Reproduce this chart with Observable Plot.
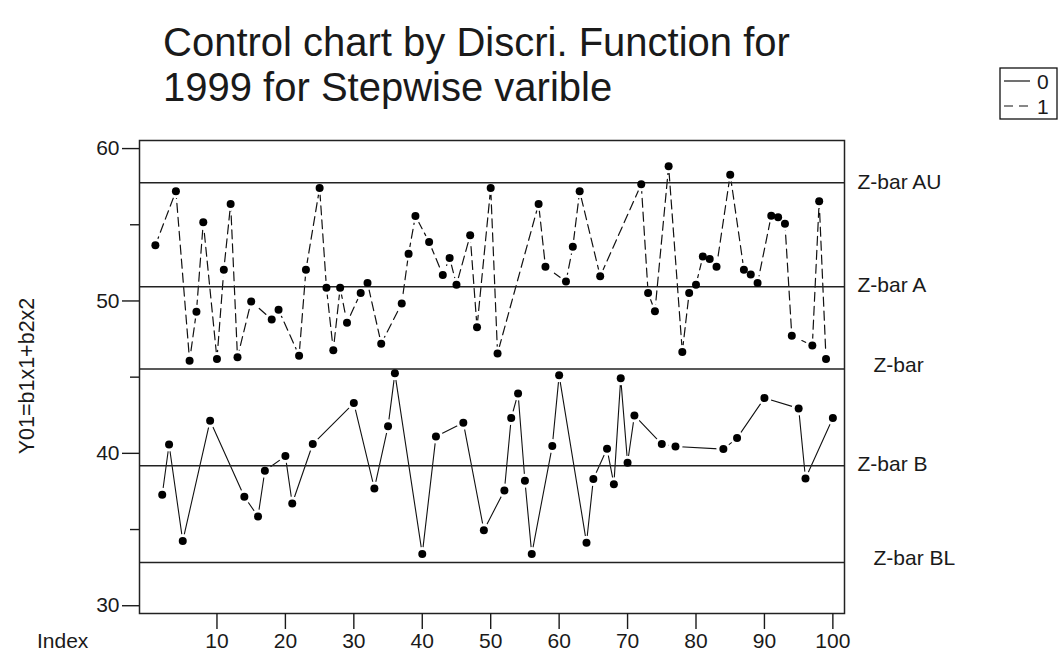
<!DOCTYPE html>
<html><head><meta charset="utf-8">
<script src="https://cdn.jsdelivr.net/npm/d3@7"></script>
<script src="https://cdn.jsdelivr.net/npm/@observablehq/plot@0.6"></script>
<style>
body{margin:0;background:#fff;}
#wrap{position:relative;width:1059px;height:671px;overflow:hidden;background:#fff;font-family:"Liberation Sans",Arial,sans-serif;}
#chart{position:absolute;left:0;top:0;}
#overlay{position:absolute;left:0;top:0;pointer-events:none;}
</style></head><body>
<div id="wrap"><div id="chart"></div>
<svg id="overlay" width="1059" height="671" font-family="'Liberation Sans', Arial, sans-serif" fill="#1a1a1a"></svg>
</div>
<script>
// ---- data ----
const indices = [1,2,3,4,5,6,7,8,9,10,11,12,13,14,15,16,17,18,19,20,21,22,23,24,25,26,27,28,29,30,31,32,33,34,35,36,37,38,39,40,41,42,43,44,45,46,47,48,49,50,51,52,53,54,55,56,57,58,59,60,61,62,63,64,65,66,67,68,69,70,71,72,73,74,75,76,77,78,79,80,81,82,83,84,85,86,87,88,89,90,91,92,93,94,95,96,97,98,99,100];
const values = [
  53.65, 37.28, 40.58, 57.2, 34.24, 46.08, 49.3, 55.16, 42.14, 46.19,
  52.04, 56.37, 46.3, 37.15, 49.97, 35.86, 38.86, 48.79, 49.43, 39.82,
  36.71, 46.41, 52.04, 40.61, 57.42, 50.87, 46.76, 50.87, 48.57, 43.3,
  50.53, 51.18, 37.7, 47.2, 41.77, 45.25, 49.84, 53.09, 55.58, 33.39,
  53.87, 41.11, 51.71, 52.82, 51.07, 42.01, 54.31, 48.27, 34.96, 57.42,
  46.56, 37.56, 42.32, 43.93, 38.2, 33.39, 56.37, 52.25, 40.48, 45.12,
  51.27, 53.55, 57.2, 34.13, 38.31, 51.62, 40.3, 37.98, 44.92, 39.38,
  42.49, 57.66, 50.53, 49.32, 40.61, 58.84, 40.45, 46.65, 50.53, 51.07,
  52.91, 52.76, 52.25, 40.28, 58.29, 41.0, 52.05, 51.73, 51.18, 43.63,
  55.6, 55.49, 55.06, 47.72, 42.95, 38.35, 47.07, 56.54, 46.19, 42.32
];
const groups = [
  1,0,0,1,0,1,1,1,0,1,
  1,1,1,0,1,0,0,1,1,0,
  0,1,1,0,1,1,1,1,1,0,
  1,1,0,1,0,0,1,1,1,0,
  1,0,1,1,1,0,1,1,0,1,
  1,0,0,0,0,0,1,1,0,0,
  1,1,1,0,0,1,0,0,0,0,
  0,1,1,1,0,1,0,1,1,1,
  1,1,1,0,1,0,1,1,1,0,
  1,1,1,1,0,0,1,1,1,0
];
const limitNames = ["Z-bar AU", "Z-bar A", "Z-bar", "Z-bar B", "Z-bar BL"];
const limitValues = [57.75, 50.94, 45.54, 39.19, 32.84];
const xTicks = [10,20,30,40,50,60,70,80,90,100];
const yTicks = [30,40,50,60];
const yMinorTicks = [35,45,55];
const legendLabels = ["0", "1"];
const titleLines = ["Control chart by Discri. Function for", "1999 for Stepwise varible"];
const yLabel = "Y01=b1x1+b2x2";
const xLabel = "Index";

// ---- build ----
const data = indices.map((x, i) => ({index: x, value: values[i], group: groups[i]}));
const limits = limitNames.map((name, i) => ({name, value: limitValues[i]}));
const FONT = '"Liberation Sans", Arial, sans-serif';

const plot = Plot.plot({
  width: 1059, height: 671,
  marginLeft: 139, marginRight: 215, marginTop: 140, marginBottom: 58,
  x: {domain: [-1.32, 101.7]},
  y: {domain: [29.49, 60.53]},
  style: {fontFamily: FONT, fontSize: "21px", color: "#1a1a1a", background: "white"},
  marks: [
    Plot.line(data.filter(d => d.group === 0), {x: "index", y: "value", stroke: "#111", strokeWidth: 1.1}),
    Plot.line(data.filter(d => d.group === 1), {x: "index", y: "value", stroke: "#111", strokeWidth: 1.2, strokeDasharray: "9,5"}),
    Plot.dot(data, {x: "index", y: "value", r: 7, fill: "white"}),
    Plot.ruleY(limits, {y: "value", stroke: "#222", strokeWidth: 1.5}),
    Plot.dot(data, {x: "index", y: "value", r: 4, fill: "#000"}),
    Plot.frame({stroke: "#222", strokeWidth: 1.5}),
    Plot.axisX({ticks: xTicks, tickSize: 16, tickPadding: 4, label: null, fontSize: 21, strokeWidth: 1.4}),
    Plot.axisY({ticks: yTicks, tickSize: 17, tickPadding: 3, label: null, fontSize: 21, strokeWidth: 1.4}),
    Plot.axisY({ticks: yMinorTicks, tickSize: 9, tickFormat: () => "", label: null, strokeWidth: 1.4}),
    Plot.text(limits.filter(d => d.name !== "Z-bar" && d.name !== "Z-bar BL"),
      {y: "value", text: "name", frameAnchor: "right", dx: 13, dy: -1, textAnchor: "start", fontSize: 21}),
    Plot.text(limits.filter(d => d.name === "Z-bar" || d.name === "Z-bar BL"),
      {y: "value", text: "name", frameAnchor: "right", dx: 29, dy: -4, textAnchor: "start", fontSize: 21})
  ]
});
document.getElementById("chart").appendChild(plot);

// ---- overlay: title, axis labels, legend ----
const ov = d3.select("#overlay");
ov.append("text").attr("x", 163).attr("y", 56).attr("font-size", 40).text(titleLines[0]);
ov.append("text").attr("x", 163).attr("y", 101).attr("font-size", 40).text(titleLines[1]);
ov.append("text").attr("transform", "translate(34,376) rotate(-90)").attr("text-anchor", "middle")
  .attr("font-size", 21.5).text(yLabel);
ov.append("text").attr("x", 37).attr("y", 648).attr("font-size", 21).text(xLabel);

const lg = ov.append("g");
lg.append("rect").attr("x", 1000).attr("y", 68).attr("width", 57).attr("height", 51)
  .attr("fill", "white").attr("stroke", "#111").attr("stroke-width", 1.3);
legendLabels.forEach((lab, i) => {
  const yy = 81 + i * 25;
  lg.append("line").attr("x1", 1004).attr("x2", 1030).attr("y1", yy).attr("y2", yy)
    .attr("stroke", "#111").attr("stroke-width", 1.2)
    .attr("stroke-dasharray", i === 1 ? "9,6" : null);
  lg.append("text").attr("x", 1037).attr("y", yy + 7.5).attr("font-size", 21).text(lab);
});
</script>
</body></html>
